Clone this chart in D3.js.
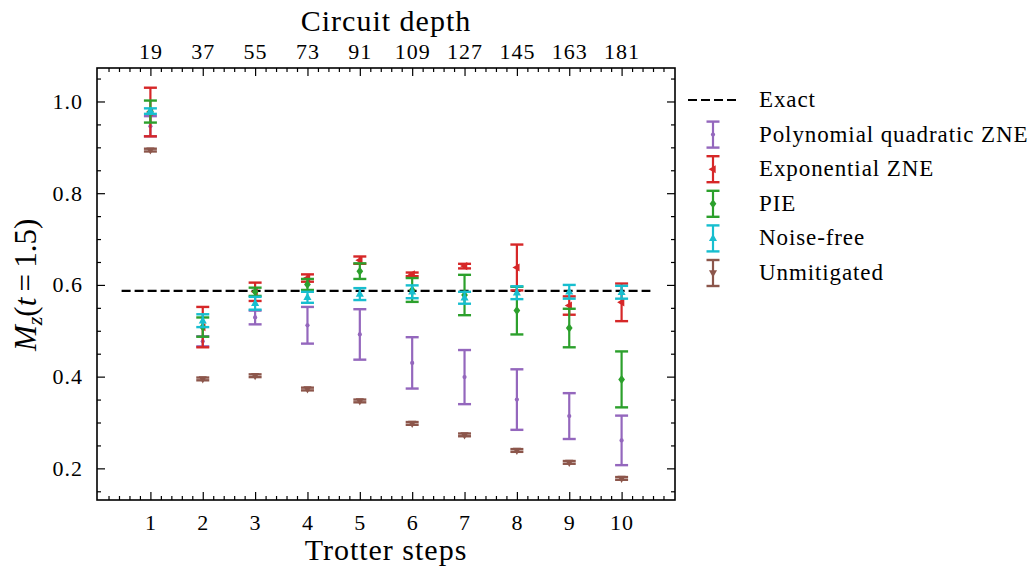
<!DOCTYPE html>
<html>
<head>
<meta charset="utf-8">
<script src="https://cdn.jsdelivr.net/npm/d3@7"></script>
<style>
  html, body { margin: 0; padding: 0; background: #ffffff; }
  svg { display: block; }
  text { font-family: "Liberation Serif", "DejaVu Serif", serif; fill: #000; }
</style>
</head>
<body>
<svg id="chart" width="1030" height="569"></svg>
<script>
// ---------------- data ----------------
const steps = [1, 2, 3, 4, 5, 6, 7, 8, 9, 10];
const depthLabels = ["19", "37", "55", "73", "91", "109", "127", "145", "163", "181"];
const yTicks = [0.2, 0.4, 0.6, 0.8, 1.0];
const exactValue = 0.587;

const polyValues = [0.946, 0.477, 0.529, 0.512, 0.492, 0.430, 0.399, 0.350, 0.314, 0.261];
const polyErrors = [0.022, 0.011, 0.015, 0.040, 0.055, 0.056, 0.059, 0.066, 0.050, 0.054];

const expValues = [0.977, 0.508, 0.585, 0.615, 0.654, 0.623, 0.641, 0.638, 0.555, 0.562];
const expErrors = [0.053, 0.044, 0.020, 0.008, 0.008, 0.004, 0.005, 0.050, 0.020, 0.041];

const pieValues = [0.978, 0.508, 0.585, 0.601, 0.630, 0.589, 0.578, 0.544, 0.506, 0.394];
const pieErrors = [0.024, 0.021, 0.009, 0.012, 0.017, 0.026, 0.044, 0.052, 0.042, 0.061];

const noiseFreeValues = [0.979, 0.522, 0.560, 0.573, 0.580, 0.585, 0.572, 0.583, 0.585, 0.584];
const noiseFreeErrors = [0.006, 0.014, 0.014, 0.012, 0.013, 0.014, 0.013, 0.014, 0.015, 0.014];

const unmitValues = [0.894, 0.395, 0.402, 0.373, 0.347, 0.298, 0.273, 0.239, 0.213, 0.178];
const unmitErrors = [0.003, 0.003, 0.003, 0.003, 0.003, 0.003, 0.003, 0.003, 0.003, 0.003];

const seriesNames = ["Polynomial quadratic ZNE", "Exponential ZNE", "PIE", "Noise-free", "Unmitigated"];
const seriesColors = ["#9467bd", "#d62728", "#2ca02c", "#17becf", "#8c564b"];
const seriesMarkers = ["dot", "left", "diamond", "up", "down"];

// ---------------- layout ----------------
const svg = d3.select("#chart");
const L = 97, T = 68, W = 578, H = 432;

const x = d3.scaleLinear().domain([-0.02, 11.02]).range([L, L + W]);
const y = d3.scaleLinear().domain([0.131, 1.073]).range([T + H, T]);

const g = svg.append("g");

svg.append("defs").append("clipPath").attr("id", "clip")
  .append("rect").attr("x", L).attr("y", T).attr("width", W).attr("height", H);

// ---------------- axes ----------------
const majorLen = 8, minorLen = 4;
const xMinor = d3.range(0, 56).map(i => i * 0.2).filter(v => v > x.domain()[0] && v < x.domain()[1] && Math.abs(v - Math.round(v)) > 1e-6);
const yMinor = d3.range(0, 23).map(i => 0.05 * i).filter(v => v > y.domain()[0] && v < y.domain()[1] && Math.abs(v * 5 - Math.round(v * 5)) > 1e-6);

const bottomAxis = d3.axisBottom(x).tickValues(steps).tickFormat(d3.format("d")).tickSizeInner(-majorLen).tickSizeOuter(0).tickPadding(14);
const topAxis = d3.axisTop(x).tickValues(steps).tickFormat((d, i) => depthLabels[i]).tickSizeInner(-majorLen).tickSizeOuter(0).tickPadding(9);
const leftAxis = d3.axisLeft(y).tickValues(yTicks).tickFormat(d3.format(".1f")).tickSizeInner(-majorLen).tickSizeOuter(0).tickPadding(14);
const rightAxis = d3.axisRight(y).tickValues(yTicks).tickFormat("").tickSizeInner(-majorLen).tickSizeOuter(0);

const bottomMinor = d3.axisBottom(x).tickValues(xMinor).tickFormat("").tickSizeInner(-minorLen).tickSizeOuter(0);
const topMinor = d3.axisTop(x).tickValues(xMinor).tickFormat("").tickSizeInner(-minorLen).tickSizeOuter(0);
const leftMinor = d3.axisLeft(y).tickValues(yMinor).tickFormat("").tickSizeInner(-minorLen).tickSizeOuter(0);
const rightMinor = d3.axisRight(y).tickValues(yMinor).tickFormat("").tickSizeInner(-minorLen).tickSizeOuter(0);

function styleAxis(sel, fs) {
  sel.select(".domain").remove();
  sel.selectAll("line").attr("stroke", "#000").attr("stroke-width", 1.2);
  sel.selectAll("text").style("font-family", '"Liberation Serif", serif').style("font-size", fs + "px")
    .style("letter-spacing", "1px").attr("fill", "#000");
}

const ab = g.append("g").attr("transform", `translate(0,${T + H})`).call(bottomAxis); styleAxis(ab, 22);
const at = g.append("g").attr("transform", `translate(0,${T})`).call(topAxis); styleAxis(at, 22);
const al = g.append("g").attr("transform", `translate(${L},0)`).call(leftAxis); styleAxis(al, 22);
const ar = g.append("g").attr("transform", `translate(${L + W},0)`).call(rightAxis); styleAxis(ar, 22);
[[bottomMinor, `translate(0,${T + H})`], [topMinor, `translate(0,${T})`], [leftMinor, `translate(${L},0)`], [rightMinor, `translate(${L + W},0)`]]
  .forEach(([ax, tr]) => { const s = g.append("g").attr("transform", tr).call(ax); styleAxis(s, 22); });

// frame
g.append("rect").attr("x", L).attr("y", T).attr("width", W).attr("height", H)
  .attr("fill", "none").attr("stroke", "#000").attr("stroke-width", 1.6);

// axis titles
g.append("text").attr("x", x(5.5)).attr("y", 31).attr("text-anchor", "middle").style("font-size", "30px").style("letter-spacing", "1px").text("Circuit depth");
g.append("text").attr("x", x(5.5)).attr("y", 560).attr("text-anchor", "middle").style("font-size", "30px").style("letter-spacing", "1px").text("Trotter steps");
const yl = g.append("text").attr("transform", `translate(36,${y(0.6)}) rotate(-90)`).attr("text-anchor", "middle").style("font-size", "31px");
yl.append("tspan").attr("font-style", "italic").text("M");
yl.append("tspan").attr("font-style", "italic").attr("dy", 6).style("font-size", "22px").text("z");
yl.append("tspan").attr("dy", -6).text("(");
yl.append("tspan").attr("font-style", "italic").text("t");
yl.append("tspan").text("\u2009=\u20091.5)");

// ---------------- data marks ----------------
const plot = g.append("g").attr("clip-path", "url(#clip)");

plot.append("line").attr("x1", x(0.45)).attr("x2", x(10.55)).attr("y1", y(exactValue)).attr("y2", y(exactValue))
  .attr("stroke", "#000").attr("stroke-width", 2.2).attr("stroke-dasharray", "9,4");

function markerPath(type, s) {
  switch (type) {
    case "dot": return d3.symbol(d3.symbolCircle, 14)();
    case "up": return `M0,${-s}L${s * 0.9},${s * 0.6}L${-s * 0.9},${s * 0.6}Z`;
    case "down": return `M0,${s}L${s * 0.9},${-s * 0.6}L${-s * 0.9},${-s * 0.6}Z`;
    case "left": return `M${-s},0L${s * 0.6},${-s * 0.9}L${s * 0.6},${s * 0.9}Z`;
    case "diamond": return `M0,${-s}L${s * 0.75},0L0,${s}L${-s * 0.75},0Z`;
  }
}

const allValues = [polyValues, expValues, pieValues, noiseFreeValues, unmitValues];
const allErrors = [polyErrors, expErrors, pieErrors, noiseFreeErrors, unmitErrors];
const capHalf = 6.5;

function drawErrorbar(sel, cx, yTop, yBot, cy, color, marker) {
  sel.append("line").attr("x1", cx).attr("x2", cx).attr("y1", yTop).attr("y2", yBot).attr("stroke", color).attr("stroke-width", 2.2);
  sel.append("line").attr("x1", cx - capHalf).attr("x2", cx + capHalf).attr("y1", yTop).attr("y2", yTop).attr("stroke", color).attr("stroke-width", 2.4);
  sel.append("line").attr("x1", cx - capHalf).attr("x2", cx + capHalf).attr("y1", yBot).attr("y2", yBot).attr("stroke", color).attr("stroke-width", 2.4);
  sel.append("path").attr("d", markerPath(marker, 4.5)).attr("transform", `translate(${cx},${cy})`).attr("fill", color);
}

allValues.forEach((vals, si) => {
  const sg = plot.append("g");
  vals.forEach((v, i) => {
    const e = allErrors[si][i];
    drawErrorbar(sg, x(steps[i]), y(v + e), y(v - e), y(v), seriesColors[si], seriesMarkers[si]);
  });
});

// ---------------- legend ----------------
const lg = g.append("g");
const lx = 688, ly0 = 100, lstep = 34.6, textX = 759;
lg.append("line").attr("x1", lx).attr("x2", lx + 50).attr("y1", ly0).attr("y2", ly0)
  .attr("stroke", "#000").attr("stroke-width", 2.2).attr("stroke-dasharray", "9,4");
lg.append("text").attr("x", textX).attr("y", ly0 + 7).style("font-size", "23px").style("letter-spacing", "0.9px").text("Exact");
seriesNames.forEach((name, i) => {
  const cy = ly0 + lstep * (i + 1);
  drawErrorbar(lg, lx + 25, cy - 13, cy + 13, cy, seriesColors[i], seriesMarkers[i]);
  lg.append("text").attr("x", textX).attr("y", cy + 7).style("font-size", "23px").style("letter-spacing", "0.9px").text(name);
});
</script>
</body>
</html>
